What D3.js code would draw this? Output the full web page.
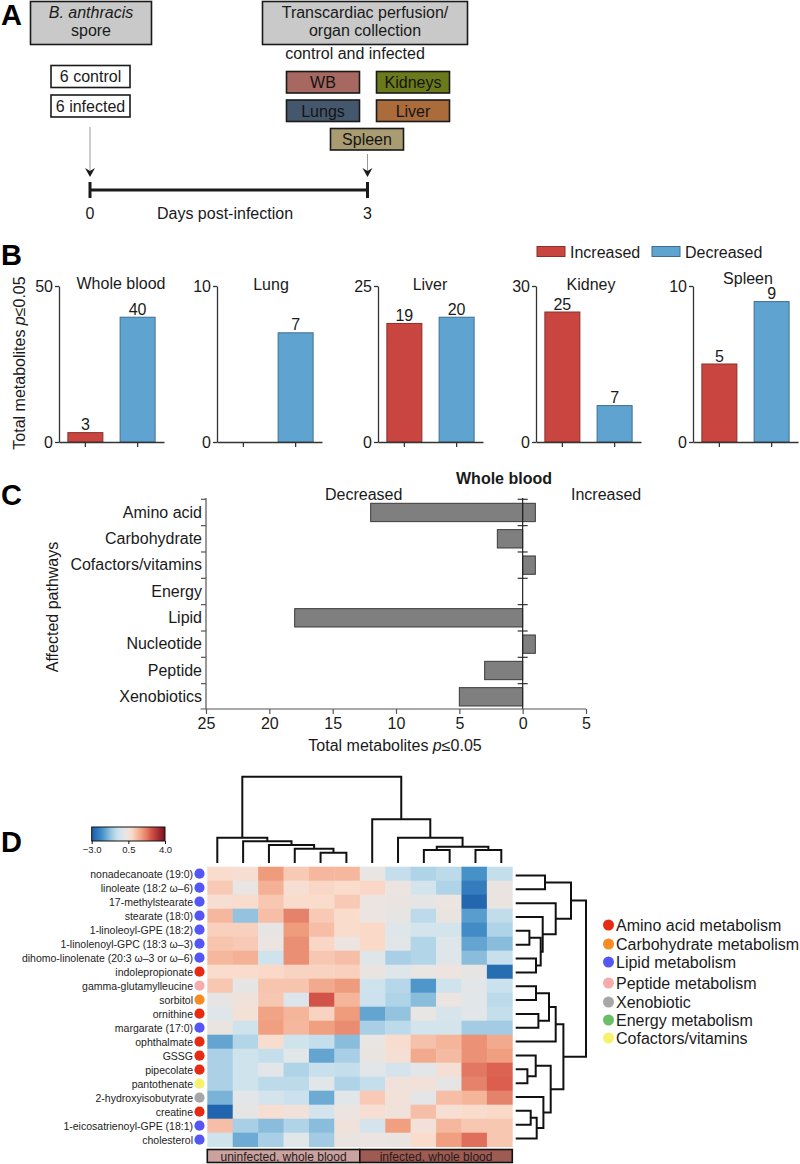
<!DOCTYPE html>
<html><head><meta charset="utf-8">
<script src="https://cdn.jsdelivr.net/npm/d3@7"></script>
<style>
body{margin:0;background:#fff;}
svg{display:block;font-family:"Liberation Sans",Arial,Helvetica,sans-serif;}
</style>
</head><body>
<svg id="c" width="800" height="1164"></svg>
<script>
// ================= DATA =================
// Panel A
const startLines = ["B. anthracis", "spore"];
const endLines = ["Transcardiac perfusion/", "organ collection"];
const groupBoxes = ["6 control", "6 infected"];
const organBoxes = ["WB", "Kidneys", "Lungs", "Liver", "Spleen"];
const timeTicks = [0, 3];
const timeLabel = "Days post-infection";

// Panel B
const organs = ["Whole blood", "Lung", "Liver", "Kidney", "Spleen"];
const organMax = [50, 10, 25, 30, 10];
const increased = [3, 0, 19, 25, 5];
const decreased = [40, 7, 20, 7, 9];
const directions = ["Increased", "Decreased"];

// Panel C
const pathways = ["Amino acid", "Carbohydrate", "Cofactors/vitamins", "Energy", "Lipid", "Nucleotide", "Peptide", "Xenobiotics"];
const pathDecreased = [12, 2, 0, 0, 18, 0, 3, 5];
const pathIncreased = [1, 0, 1, 0, 0, 1, 0, 0];
const cTicks = [25, 20, 15, 10, 5, 0, -5];

// Panel D
const metabolites = ["nonadecanoate (19:0)", "linoleate (18:2 \u03c9\u20136)", "17-methylstearate", "stearate (18:0)",
  "1-linoleoyl-GPE (18:2)", "1-linolenoyl-GPC (18:3 \u03c9\u20133)", "dihomo-linolenate (20:3 \u03c9\u20133 or \u03c9\u20136)",
  "indolepropionate", "gamma-glutamylleucine", "sorbitol", "ornithine", "margarate (17:0)", "ophthalmate", "GSSG",
  "pipecolate", "pantothenate", "2-hydroxyisobutyrate", "creatine", "1-eicosatrienoyl-GPE (18:1)", "cholesterol"];
const classNames = ["Amino acid metabolism", "Carbohydrate metabolism", "Lipid metabolism", "Peptide metabolism", "Xenobiotic", "Energy metabolism", "Cofactors/vitamins"];
const classColors = ["#e62b12", "#f78b24", "#5656f4", "#f7abab", "#a7a7a7", "#6cbd69", "#f6f26c"];
const metClass = [2, 2, 2, 2, 2, 2, 2, 0, 3, 1, 0, 2, 0, 0, 0, 6, 4, 0, 2, 2];
const sampleGroups = ["uninfected, whole blood", "infected, whole blood"];
const sampleGroupOf = [0, 0, 0, 0, 0, 0, 1, 1, 1, 1, 1, 1];
const heat = [
  [0.8, 0.7, 1.8, 1.1, 1.4, 1.4, 0.3, -0.6, -0.9, -0.7, -2.0, -0.6],
  [1.1, 0.3, 1.5, 0.7, 0.9, 0.8, 0.9, 0.4, -0.3, -0.9, -2.4, 0.35],
  [0.7, 0.75, 1.15, 0.8, 0.8, 1.1, 0.4, 0.35, 0.2, 0.4, -2.8, 0.35],
  [1.4, -1.2, 1.3, 2.2, 1.1, 0.8, 0.4, 0.25, -0.7, 0.35, -1.8, -0.65],
  [1.0, 1.0, 0.25, 1.8, 1.3, 0.8, 0.85, 0.0, -0.3, -0.3, -2.1, -0.9],
  [1.2, 1.1, 0.4, 2.0, 0.9, 0.4, 0.85, 0.1, -0.85, 0.0, -1.7, -1.3],
  [1.4, 1.5, -0.4, 2.0, 1.15, 1.3, 0.0, -1.0, -0.85, 0.0, -1.3, -0.55],
  [0.8, 0.8, 0.85, 0.95, 0.95, 1.0, 0.35, 0.0, 0.3, 0.45, 0.25, -2.7],
  [1.15, 0.2, 1.2, 1.2, 1.6, 1.8, -0.4, -0.8, -1.9, -0.4, 0.1, -0.5],
  [0.25, 0.5, 1.15, -0.1, 2.7, 1.45, -0.45, -0.9, -1.3, 0.4, 0.05, -0.7],
  [0.0, 0.6, 1.7, 1.45, 0.95, 1.8, -1.7, -1.2, 0.3, -0.2, 0.1, -0.6],
  [0.35, -0.4, 1.75, 1.4, 1.75, 2.05, -1.0, -0.7, -0.3, -0.3, -1.05, -1.05],
  [-1.7, -0.85, 0.75, -0.4, -0.6, -1.3, 0.3, 0.75, 1.25, 1.45, 1.95, 1.6],
  [-0.95, -0.4, -0.6, 0.05, -1.7, -1.0, 0.35, 0.65, 1.6, 1.35, 1.95, 1.75],
  [-0.95, -0.4, 0.1, -0.9, -0.55, -0.6, 0.1, -0.25, 0.1, 0.65, 2.3, 2.5],
  [-0.95, -0.4, -0.7, -0.7, 0.05, -0.9, -0.6, 0.5, 0.55, 0.2, 2.2, 2.55],
  [-1.45, 0.1, -0.25, -0.5, -1.6, 0.05, 1.1, 0.55, 0.15, 1.3, 1.45, 2.2],
  [-2.85, 0.2, 0.7, 0.5, -0.3, 0.4, 0.7, 0.5, 1.3, 0.7, 0.8, 0.85],
  [1.3, -1.0, -1.3, -0.9, -1.3, 0.5, -0.25, 1.75, 0.55, 1.4, 1.15, 1.15],
  [-0.4, -1.6, -1.0, 0.05, -1.05, 0.35, 0.4, 0.35, 0.8, 1.75, 2.4, 1.15]
];
// hclust-style merges: negative = leaf (1-based), positive = earlier merge (1-based); third = height
const colMerge = [
  [-5, -6, 10.3], [-4, 1, 14.3], [-3, 2, 18], [-2, 3, 21.7], [-1, 4, 25.3],
  [-9, -10, 13], [-11, -12, 13], [6, 7, 16.3], [-8, 8, 25.3], [-7, 9, 43.7],
  [5, 10, 86.3]
];
const rowMerge = [
  [-1, -2, 29.3], [-5, -6, 13.7], [-7, -8, 20.3], [2, 3, 25], [-4, 4, 27],
  [-3, 5, 40], [1, 6, 55.3], [-9, -10, 20.3], [-11, -12, 22.7], [8, 9, 33.3],
  [10, -13, 40], [-15, -16, 11.7], [-14, 12, 20], [-18, -19, 15], [14, -20, 21],
  [-17, 15, 27.7], [13, 16, 35], [11, 17, 47.7], [7, 18, 70.3]
];
const legendTicks = [-3.0, 0.5, 4.0];
const colorStops = [-3, -2, -1, -0.5, 0, 0.4, 0.8, 1.4, 1.8, 2.2, 2.6, 4];
const colorRange = ["#1a5da9", "#4591c8", "#a8cfe5", "#cbe2ee", "#dfe6ea", "#ece4e0", "#fadccd", "#f5b89e", "#ef9c7d", "#e5826b", "#d9594a", "#7a0a1f"];

// ================= DRAW =================
const svg = d3.select("#c");
const INK = "#1a1a1a";

function label(g, x, y, s, size, anchor) {
  return g.append("text").attr("x", x).attr("y", y).attr("font-size", size || 16)
    .attr("text-anchor", anchor || "middle").attr("fill", INK).text(s);
}
function panelLetter(s, y) {
  svg.append("text").attr("x", 1).attr("y", y).attr("font-size", 29).attr("font-weight", "bold").attr("fill", "#000").text(s);
}

// ---------- Panel A ----------
panelLetter("A", 25);
const gA = svg.append("g");
function rbox(x, y, w, h, fill) {
  gA.append("rect").attr("x", x).attr("y", y).attr("width", w).attr("height", h)
    .attr("fill", fill).attr("stroke", INK).attr("stroke-width", 1.6);
}
rbox(30.5, 1.5, 121, 43, "#c9c9c9");
label(gA, 91, 18, startLines[0]).attr("font-style", "italic");
label(gA, 91, 36, startLines[1]);
rbox(262.5, 1.5, 205, 43, "#c9c9c9");
label(gA, 365, 18, endLines[0]);
label(gA, 365, 36, endLines[1]);
label(gA, 355, 59, "control and infected");
groupBoxes.forEach((s, i) => {
  rbox(51, 65.5 + i * 29.5, 79, 22, "#fff");
  label(gA, 90.5, 82 + i * 29.5, s);
});
const organBoxLayout = [[286.5, 71.5, "#a66860"], [376.5, 71.5, "#6b7b1b"], [286.5, 100, "#45576c"], [376.5, 100, "#ab6c3c"], [330.5, 128.5, "#a99c72"]];
organBoxes.forEach((s, i) => {
  const [x, y, c] = organBoxLayout[i];
  rbox(x, y, 73, 21.5, c);
  label(gA, x + 36.5, y + 16.5, s).attr("fill", "#141414");
});
const tx = d3.scaleLinear().domain(d3.extent(timeTicks)).range([90, 367.5]);
[[tx(0), 127], [tx(3), 154]].forEach(([x, y0]) => {
  gA.append("line").attr("x1", x).attr("x2", x).attr("y1", y0).attr("y2", 172).attr("stroke", "#9a9a9a").attr("stroke-width", 1);
  gA.append("path").attr("d", `M${x - 5},168 L${x},177 L${x + 5},168 L${x},171 Z`).attr("fill", INK);
});
gA.append("line").attr("x1", tx(0)).attr("x2", tx(3)).attr("y1", 190).attr("y2", 190).attr("stroke", INK).attr("stroke-width", 3);
timeTicks.forEach(t => {
  gA.append("line").attr("x1", tx(t)).attr("x2", tx(t)).attr("y1", 182).attr("y2", 198).attr("stroke", INK).attr("stroke-width", 3);
  label(gA, tx(t), 219, String(t));
});
label(gA, 225, 219, timeLabel);

// ---------- Panel B ----------
panelLetter("B", 265);
const gB = svg.append("g");
const barColors = ["#c8463f", "#5fa3d0"];
const barStroke = ["#8c2e2a", "#3f6e91"];
const legX = [537, 652];
directions.forEach((d, i) => {
  gB.append("rect").attr("x", legX[i]).attr("y", 246.5).attr("width", 28).attr("height", 10).attr("fill", barColors[i]).attr("stroke", barStroke[i]).attr("stroke-width", 1);
  label(gB, legX[i] + 33, 258, d, 16, "start");
});
const bX0 = [59, 217, 378, 536, 693];
const titleDX = [62, 54, 52, 55, 55];
const titleY = [288.5, 289.5, 289.5, 289.5, 284];
organs.forEach((org, i) => {
  const g = gB.append("g");
  const x0 = bX0[i];
  const y = d3.scaleLinear().domain([0, organMax[i]]).range([442, 286]);
  const x = d3.scaleBand().domain(directions).range([x0, x0 + 105]).paddingInner(0.33).paddingOuter(0.17);
  const vals = [increased[i], decreased[i]];
  directions.forEach((d, k) => {
    if (vals[k] > 0) {
      g.append("rect").attr("x", x(d)).attr("y", y(vals[k])).attr("width", x.bandwidth()).attr("height", y(0) - y(vals[k]))
        .attr("fill", barColors[k]).attr("stroke", barStroke[k]).attr("stroke-width", 1);
      label(g, x(d) + x.bandwidth() / 2, y(vals[k]) - 2.5, String(vals[k]));
    }
  });
  const ya = g.append("g").attr("transform", `translate(${x0},0)`)
    .call(d3.axisLeft(y).tickValues([0, organMax[i]]).tickSize(4).tickSizeOuter(0).tickPadding(2));
  const xa = g.append("g").attr("transform", `translate(0,442)`)
    .call(d3.axisBottom(x).tickSize(5).tickSizeOuter(0).tickFormat(""));
  [ya, xa].forEach(a => {
    a.selectAll("path,line").attr("stroke", "#333").attr("stroke-width", 1.3);
    a.selectAll("text").attr("font-size", 16).attr("fill", INK).attr("font-family", null);
  });
  label(g, x0 + titleDX[i], titleY[i], org);
});
const yLabB = gB.append("text").attr("transform", "translate(25,363) rotate(-90)").attr("text-anchor", "middle").attr("font-size", 16).attr("fill", INK);
yLabB.append("tspan").text("Total metabolites ");
yLabB.append("tspan").attr("font-style", "italic").text("p");
yLabB.append("tspan").text("\u22640.05");

// ---------- Panel C ----------
panelLetter("C", 505);
const gC = svg.append("g");
const cx = d3.scaleLinear().domain([25, -5]).range([206, 586]);
const cy = d3.scaleBand().domain(pathways).range([499.3, 710]);
const barInset = 4;
pathways.forEach((p, i) => {
  const yb = cy(p) + barInset, hb = cy.bandwidth() - 2 * barInset;
  if (pathDecreased[i] > 0)
    gC.append("rect").attr("x", cx(pathDecreased[i])).attr("y", yb).attr("width", cx(0) - cx(pathDecreased[i])).attr("height", hb)
      .attr("fill", "#7f7f7f").attr("stroke", "#3a3a3a").attr("stroke-width", 1);
  if (pathIncreased[i] > 0)
    gC.append("rect").attr("x", cx(0)).attr("y", yb).attr("width", cx(-pathIncreased[i]) - cx(0)).attr("height", hb)
      .attr("fill", "#7f7f7f").attr("stroke", "#3a3a3a").attr("stroke-width", 1);
});
const cyL = gC.append("g").attr("transform", "translate(206,0)")
  .call(d3.axisLeft(cy).tickSize(0).tickPadding(4));
cyL.select(".domain").remove();
cyL.selectAll("text").attr("font-size", 16).attr("fill", INK).attr("font-family", null);
gC.append("line").attr("x1", 206).attr("x2", 206).attr("y1", 498).attr("y2", 709).attr("stroke", "#555").attr("stroke-width", 1.2);
pathways.forEach(p => {
  gC.append("line").attr("x1", 201).attr("x2", 206).attr("y1", cy(p)).attr("y2", cy(p)).attr("stroke", "#555").attr("stroke-width", 1.2);
  gC.append("line").attr("x1", cx(0) - 5).attr("x2", cx(0) + 5).attr("y1", cy(p)).attr("y2", cy(p)).attr("stroke", "#333").attr("stroke-width", 1.2);
});
gC.append("line").attr("x1", cx(0)).attr("x2", cx(0)).attr("y1", 498).attr("y2", 709).attr("stroke", "#222").attr("stroke-width", 1.2);
const cxA = gC.append("g").attr("transform", "translate(0,709)")
  .call(d3.axisBottom(cx).tickValues(cTicks).tickFormat(d => Math.abs(d)).tickSize(5).tickSizeOuter(0).tickPadding(4));
cxA.select(".domain").remove();
cxA.selectAll("line").attr("stroke", "#555").attr("stroke-width", 1.2);
cxA.selectAll("text").attr("font-size", 16).attr("fill", INK).attr("font-family", null);
gC.append("line").attr("x1", 200.5).attr("x2", 586).attr("y1", 709).attr("y2", 709).attr("stroke", "#555").attr("stroke-width", 1.2);
const xLabC = gC.append("text").attr("x", 395).attr("y", 751).attr("text-anchor", "middle").attr("font-size", 16).attr("fill", INK);
xLabC.append("tspan").text("Total metabolites ");
xLabC.append("tspan").attr("font-style", "italic").text("p");
xLabC.append("tspan").text("\u22640.05");
label(gC, 52, 607, "Affected pathways").attr("transform", "rotate(-90,52,607)").attr("dy", 5.5);
label(gC, 504, 484, "Whole blood").attr("font-weight", "bold");
label(gC, 325, 500, "Decreased", 16, "start");
label(gC, 571, 500, "Increased", 16, "start");

// ---------- Panel D ----------
panelLetter("D", 852);
const gD = svg.append("g");
const color = d3.scaleLinear().domain(colorStops).range(colorRange).interpolate(d3.interpolateRgb).clamp(true);
const hx = d3.scaleBand().domain(d3.range(12)).range([207.3, 512.3]);
const hy = d3.scaleBand().domain(d3.range(metabolites.length)).range([866.7, 1146.7]);
heat.forEach((row, r) => row.forEach((v, c) => {
  gD.append("rect").attr("x", hx(c)).attr("y", hy(r)).attr("width", hx.bandwidth() + 0.4).attr("height", hy.bandwidth() + 0.4).attr("fill", color(v));
}));
metabolites.forEach((m, r) => {
  label(gD, 193, hy(r) + hy.bandwidth() / 2 + 3.8, m, 10.5, "end").attr("fill", "#222");
  gD.append("circle").attr("cx", 199.5).attr("cy", hy(r) + hy.bandwidth() / 2).attr("r", 5.1).attr("fill", classColors[metClass[r]]);
});
const groupColors = ["#caa3a0", "#9d5b53"];
sampleGroups.forEach((s, gi) => {
  const cols = d3.range(12).filter(c => sampleGroupOf[c] === gi);
  const x1 = hx(cols[0]), x2 = hx(cols[cols.length - 1]) + hx.bandwidth();
  gD.append("rect").attr("x", x1).attr("y", 1149.5).attr("width", x2 - x1).attr("height", 13).attr("fill", groupColors[gi]).attr("stroke", "#111").attr("stroke-width", 1.6);
  label(gD, (x1 + x2) / 2, 1160.5, s, 12).attr("fill", "#2a1a1a");
});
function dendro(merge, leafPos) {
  const nodes = [], segs = [];
  const get = i => i < 0 ? { pos: leafPos(-i - 1), h: 0 } : nodes[i - 1];
  merge.forEach(([a, b, h]) => {
    const A = get(a), B = get(b);
    segs.push({ A, B, h });
    nodes.push({ pos: (A.pos + B.pos) / 2, h });
  });
  return segs;
}
const topLeaf = d3.scalePoint().domain(d3.range(12)).range([217.3, 501.3]);
const topH = d3.scaleLinear().domain([0, 86.3]).range([863, 776.7]);
dendro(colMerge, i => topLeaf(i)).forEach(({ A, B, h }) => {
  gD.append("path").attr("d", `M${A.pos},${topH(A.h)}V${topH(h)}H${B.pos}V${topH(B.h)}`)
    .attr("fill", "none").attr("stroke", "#111").attr("stroke-width", 2);
});
const rowLeaf = d3.scalePoint().domain(d3.range(metabolites.length)).range([875.5, 1138.5]);
const rowH = d3.scaleLinear().domain([0, 70.3]).range([515.7, 586]);
dendro(rowMerge, i => rowLeaf(i)).forEach(({ A, B, h }) => {
  gD.append("path").attr("d", `M${rowH(A.h)},${A.pos}H${rowH(h)}V${B.pos}H${rowH(B.h)}`)
    .attr("fill", "none").attr("stroke", "#111").attr("stroke-width", 2);
});
const defs = svg.append("defs");
const grad = defs.append("linearGradient").attr("id", "heatgrad");
d3.range(0, 1.0001, 0.05).forEach(t => {
  grad.append("stop").attr("offset", t).attr("stop-color", color(-3 + 7 * t));
});
const lx = d3.scaleLinear().domain([-3, 4]).range([91.7, 165]);
gD.append("rect").attr("x", lx(-3)).attr("y", 827).attr("width", lx(4) - lx(-3)).attr("height", 14)
  .attr("fill", "url(#heatgrad)").attr("stroke", "#111").attr("stroke-width", 1);
const lAx = gD.append("g").attr("transform", "translate(0,841)")
  .call(d3.axisBottom(lx).tickValues(legendTicks).tickFormat(d3.format(".1f")).tickSize(3).tickSizeOuter(0).tickPadding(2));
lAx.select(".domain").remove();
lAx.selectAll("line").attr("stroke", "#111");
lAx.selectAll("text").attr("font-size", 9.5).attr("fill", "#222").attr("font-family", null);
const classLegendY = [925, 944, 962, 983, 1002, 1020, 1038];
classNames.forEach((n, i) => {
  const yy = classLegendY[i];
  gD.append("circle").attr("cx", 608.5).attr("cy", yy).attr("r", 5.5).attr("fill", classColors[i]);
  label(gD, 616, yy + 5.6, n, 16, "start");
});
</script>
</body></html>
